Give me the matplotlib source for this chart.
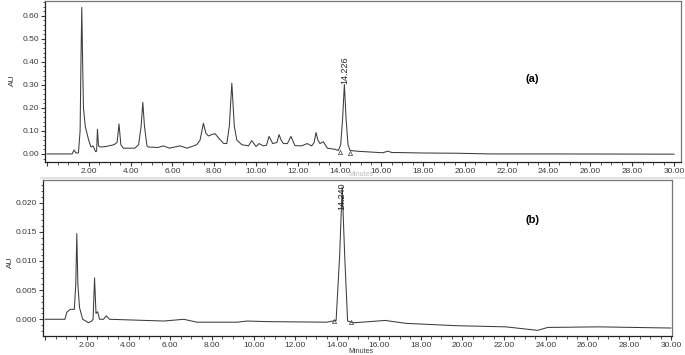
import numpy as np
import matplotlib
matplotlib.use("Agg")
import matplotlib.pyplot as plt
from matplotlib.ticker import MultipleLocator, FormatStrFormatter, FuncFormatter

plt.rcParams['font.family'] = ['Liberation Sans', 'DejaVu Sans']

# chromatogram (a): time (min) / absorbance (AU)
t_a = [0.0, 1.2, 1.29, 1.38, 1.5, 1.58, 1.62, 1.66, 1.70, 1.74, 1.83, 1.99, 2.1,
       2.2, 2.32, 2.37, 2.41, 2.46, 2.55, 2.8, 3.2, 3.35, 3.44, 3.53, 3.65, 4.2,
       4.38, 4.5, 4.58, 4.66, 4.78, 4.85, 5.3, 5.57, 5.85, 6.36, 6.7, 7.16, 7.32,
       7.48, 7.6, 7.72, 7.9, 8.04, 8.2, 8.44, 8.6, 8.72, 8.84, 8.96, 9.08, 9.32,
       9.64, 9.79, 10.0, 10.14, 10.35, 10.5, 10.62, 10.8, 11.0, 11.1, 11.2, 11.31,
       11.5, 11.67, 11.86, 12.18, 12.45, 12.66, 12.78, 12.87, 12.96, 13.06, 13.22,
       13.41, 13.78, 13.94, 14.05, 14.14, 14.226, 14.31, 14.4, 14.5, 14.8, 16.07,
       16.3, 16.5, 16.8, 18.0, 19.6, 21.2, 24.0, 30.0]
au_a = [0.0, 0.0, 0.017, 0.004, 0.005, 0.1, 0.4, 0.636, 0.4, 0.2, 0.118, 0.06, 0.03,
        0.035, 0.01, 0.012, 0.107, 0.035, 0.03, 0.032, 0.04, 0.05, 0.13, 0.04, 0.025, 0.025,
        0.04, 0.12, 0.224, 0.12, 0.035, 0.03, 0.028, 0.035, 0.025, 0.035, 0.025, 0.04, 0.06,
        0.133, 0.09, 0.078, 0.085, 0.088, 0.07, 0.046, 0.045, 0.12, 0.307, 0.12, 0.06, 0.04,
        0.035, 0.058, 0.032, 0.045, 0.035, 0.038, 0.076, 0.045, 0.05, 0.084, 0.06, 0.045,
        0.045, 0.076, 0.036, 0.035, 0.045, 0.035, 0.05, 0.093, 0.06, 0.045, 0.053,
        0.025, 0.02, 0.015, 0.04, 0.15, 0.302, 0.15, 0.04, 0.015, 0.012, 0.005,
        0.012, 0.006, 0.006, 0.004, 0.003, 0.0, 0.0, -0.001]

# chromatogram (b)
t_b = [0.0, 0.95, 1.04, 1.2, 1.4, 1.47, 1.52, 1.57, 1.65, 1.8, 2.0, 2.07, 2.24,
       2.3, 2.37, 2.44, 2.52, 2.61, 2.8, 2.93, 3.09, 5.7, 6.64, 7.28, 9.2, 9.68,
       10.65, 13.5, 13.95, 14.12, 14.24, 14.36, 14.5, 14.8, 16.3, 17.3, 19.7,
       22.1, 23.1, 23.6, 24.1, 26.5, 30.0]
au_b = [0.0, 0.0, 0.0012, 0.0017, 0.0017, 0.006, 0.0147, 0.006, 0.002, 0.0, -0.0004,
        -0.0006, -0.0003, 0.0, 0.0071, 0.001, 0.0013, 0.0, 0.0, 0.0006, 0.0, -0.0003,
        0.0, -0.0005, -0.0005, -0.0003, -0.0004, -0.0005, -0.0002, 0.011, 0.0227,
        0.011, -0.0003, -0.0006, -0.0002, -0.0007, -0.0011, -0.0013, -0.0017,
        -0.0019, -0.0014, -0.0013, -0.0015]

# integration marks and peak labels
marks_a_t = [14.0, 14.5]
marks_a_y = [0.01, 0.006]
marks_b_t = [13.85, 14.65]
marks_b_y = [-0.0003, -0.0004]
peak_a = (14.226, 0.305, "14.226")
peak_b = (14.24, 0.0188, "14.240")

line_col = "#3c3c3c"
tick_col = "#3a3a3a"

fig = plt.figure(figsize=(6.85, 3.55), dpi=100)
ax1 = fig.add_axes([0.0657, 0.5437, 0.9283, 0.4533])
ax2 = fig.add_axes([0.0628, 0.053, 0.9182, 0.440])


def xfmt(v, pos):
    if v < 1:
        return ""
    return "%.2f" % v


def style(ax, ymaj, ymin, fmt):
    ax.xaxis.set_major_locator(MultipleLocator(2))
    ax.xaxis.set_minor_locator(MultipleLocator(0.5))
    ax.yaxis.set_major_locator(MultipleLocator(ymaj))
    ax.yaxis.set_minor_locator(MultipleLocator(ymin))
    ax.xaxis.set_major_formatter(FuncFormatter(xfmt))
    ax.yaxis.set_major_formatter(FormatStrFormatter(fmt))
    ax.tick_params(which="major", length=3, width=0.8, labelsize=6,
                   colors=tick_col, pad=1.5)
    ax.tick_params(which="minor", length=1.8, width=0.6, colors=tick_col)
    for s in ax.spines.values():
        s.set_color("#777777")
        s.set_linewidth(0.9)
    ax.spines["left"].set_color("#222222")
    ax.spines["bottom"].set_color("#222222")


ax1.plot(t_a, au_a, color=line_col, lw=0.75)
ax1.plot(marks_a_t, marks_a_y, ls="none", marker="^", ms=3, mfc="none",
         mec=line_col, mew=0.5)
ax1.set_xlim(-0.1, 30.33)
ax1.set_ylim(-0.035, 0.664)
style(ax1, 0.1, 0.02, "%.2f")
ax1.text(peak_a[0], peak_a[1], peak_a[2], rotation=90, ha="center", va="bottom",
         fontsize=6.5, color="#222222")
ax1.text(0.767, 0.515, "(a)", transform=ax1.transAxes, fontsize=8,
         fontweight="bold", ha="center", va="center")

ax2.plot(t_b, au_b, color=line_col, lw=0.75)
ax2.plot(marks_b_t, marks_b_y, ls="none", marker="^", ms=3, mfc="none",
         mec=line_col, mew=0.5)
ax2.set_xlim(-0.1, 30.05)
ax2.set_ylim(-0.0029, 0.0239)
style(ax2, 0.005, 0.001, "%.3f")
ax2.text(peak_b[0], peak_b[1], peak_b[2], rotation=90, ha="center", va="bottom",
         fontsize=6.5, color="#222222")
ax2.text(0.779, 0.742, "(b)", transform=ax2.transAxes, fontsize=8,
         fontweight="bold", ha="center", va="center")

fig.text(12 / 685, 1 - 80 / 355, "AU", rotation=90, fontsize=6, color=tick_col,
         ha="center", va="center")
fig.text(10 / 685, 1 - 262 / 355, "AU", rotation=90, fontsize=6, color=tick_col,
         ha="center", va="center")
fig.text(361 / 685, 1 - 171 / 355, "Minutes", fontsize=5, color="#bbbbbb",
         ha="center", va="top")
fig.text(361 / 685, 0.0, "Minutes", fontsize=5, color=tick_col, ha="center",
         va="bottom")
fig.add_artist(plt.Line2D([0.06, 1.0], [0.499, 0.499], color="#dddddd",
                          lw=1.2))

fig.savefig("out.png", dpi=100)
